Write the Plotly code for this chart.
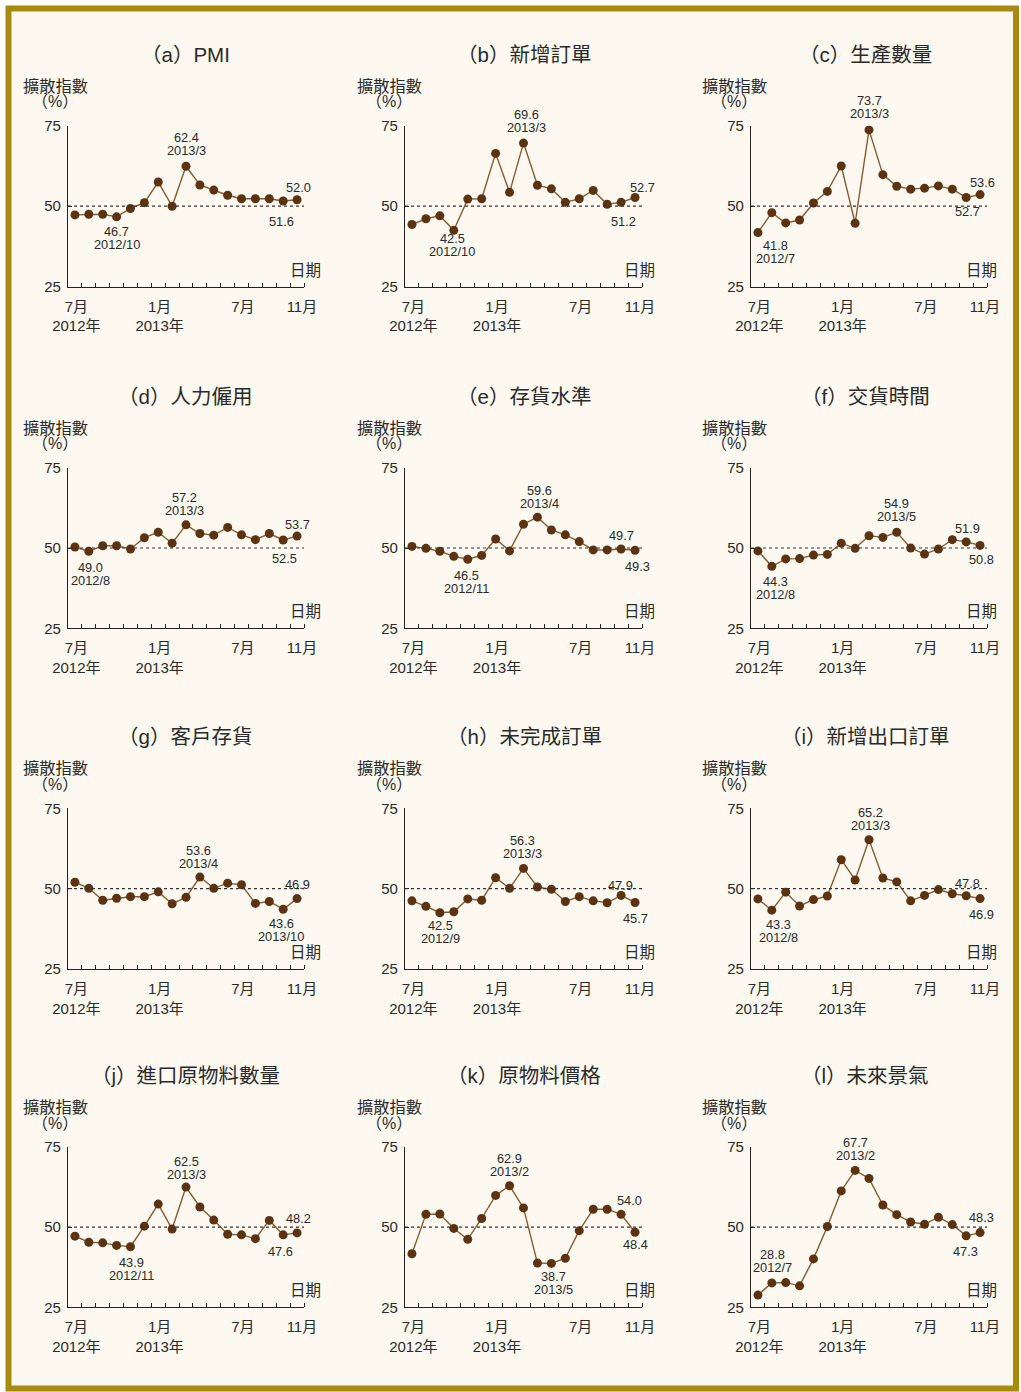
import plotly.graph_objects as go

# ---------------- data ----------------
months = list(range(17))  # 2012/7 .. 2013/11
dates = ["2012/7", "2012/8", "2012/9", "2012/10", "2012/11", "2012/12",
         "2013/1", "2013/2", "2013/3", "2013/4", "2013/5", "2013/6",
         "2013/7", "2013/8", "2013/9", "2013/10", "2013/11"]
tick_pos = [0.1, 6.1, 12.1, 16.35]
tick_text = ["7月<br>2012年", "1月<br>2013年", "7月", "11月"]
y_ticks = [25, 50, 75]

titles = ["（a）PMI", "（b）新增訂單", "（c）生產數量",
          "（d）人力僱用", "（e）存貨水準", "（f）交貨時間",
          "（g）客戶存貨", "（h）未完成訂單", "（i）新增出口訂單",
          "（j）進口原物料數量", "（k）原物料價格", "（l）未來景氣"]

pmi = [47.3, 47.5, 47.5, 46.7, 49.3, 51.1, 57.5, 50.0, 62.4, 56.6, 55.0, 53.4, 52.3, 52.3, 52.3, 51.6, 52.0]
new_orders = [44.3, 46.1, 47.0, 42.5, 52.2, 52.3, 66.4, 54.3, 69.6, 56.5, 55.4, 51.2, 52.3, 54.9, 50.6, 51.2, 52.7]
production = [41.8, 48.0, 44.8, 45.7, 51.0, 54.6, 62.5, 44.7, 73.7, 59.8, 56.2, 55.3, 55.6, 56.3, 55.3, 52.7, 53.6]
employment = [50.3, 49.0, 50.7, 50.7, 49.7, 53.2, 54.9, 51.5, 57.2, 54.5, 54.0, 56.4, 54.1, 52.6, 54.5, 52.5, 53.7]
inventories = [50.5, 49.9, 49.0, 47.4, 46.5, 47.7, 52.8, 49.1, 57.4, 59.6, 55.6, 54.1, 52.0, 49.4, 49.4, 49.7, 49.3]
delivery = [49.1, 44.3, 46.6, 46.7, 47.8, 48.0, 51.5, 49.9, 53.8, 53.3, 54.9, 50.0, 48.1, 49.7, 52.6, 51.9, 50.8]
cust_inventories = [52.0, 50.1, 46.4, 47.0, 47.5, 47.5, 49.0, 45.3, 47.3, 53.6, 50.1, 51.7, 51.2, 45.4, 46.0, 43.6, 46.9]
backlog = [46.2, 44.5, 42.5, 42.8, 46.8, 46.4, 53.4, 50.1, 56.3, 50.5, 49.8, 46.0, 47.5, 46.2, 45.6, 47.9, 45.7]
export_orders = [46.8, 43.3, 48.9, 44.6, 46.6, 47.7, 59.0, 52.7, 65.2, 53.3, 52.1, 46.2, 47.9, 49.7, 48.4, 47.8, 46.9]
imports = [47.2, 45.3, 45.1, 44.3, 43.9, 50.3, 57.2, 49.4, 62.5, 56.3, 52.2, 47.8, 47.6, 46.4, 52.1, 47.6, 48.2]
prices = [41.7, 54.0, 54.1, 49.6, 46.2, 52.7, 59.9, 62.9, 56.0, 38.8, 38.7, 40.3, 48.9, 55.6, 55.6, 54.0, 48.4]
future = [28.8, 32.6, 32.7, 31.7, 40.1, 50.2, 61.3, 67.7, 65.2, 56.9, 53.9, 51.6, 50.9, 53.1, 50.8, 47.3, 48.3]

series = [pmi, new_orders, production, employment, inventories, delivery,
          cust_inventories, backlog, export_orders, imports, prices, future]

# labelled points: (index, show date, x shift px, y offset px of value line; + = down)
label_specs = [
    [(8, True, 0, -28.5), (3, True, 0, 14.7), (16, False, 1, -12.3), (15, False, -2, 20)],
    [(8, True, 2.5, -29), (3, True, -1.3, 8.5), (16, False, 7, -10), (15, False, 2, 18.7)],
    [(8, True, 0, -29.7), (0, True, 18, 13.3), (16, False, 2, -12), (15, False, 1.3, 14)],
    [(8, True, -2, -27.7), (1, True, 1.3, 16), (16, False, 0, -11.3), (15, False, 1.7, 18.3)],
    [(9, True, 1.7, -26.3), (4, True, -1.7, 16.7), (15, False, 0, -13), (16, False, 2, 16.7)],
    [(10, True, 0, -29), (1, True, 4, 15.3), (15, False, 1.3, -13.3), (16, False, 1.3, 14.3)],
    [(9, True, -1.7, -27), (15, True, -1.7, 14.7), (16, False, 0.7, -13.7)],
    [(8, True, -0.7, -28.3), (2, True, 1, 13), (15, False, -0.7, -10.3), (16, False, 0, 16)],
    [(8, True, 1.3, -27.3), (1, True, 6.7, 14.3), (15, False, 1.3, -12.7), (16, False, 1.3, 16)],
    [(8, True, 0, -25.7), (4, True, 0.7, 15.7), (16, False, 1.3, -14.7), (15, False, -2.7, 16.3)],
    [(7, True, 0, -27), (10, True, 1.7, 12.7), (15, False, 8.3, -14), (16, False, 0, 12.7)],
    [(7, True, 0, -28.3), (0, True, 15, -40.7), (16, False, 1.3, -15.3), (15, False, -1, 15.3)],
]

# ---------------- layout geometry (pixels) ----------------
W, H = 1021, 1392
col_left = [68, 405, 751]
col_right = [304, 642, 987]
row_top = [125.7, 467.7, 808.3, 1147]
row_bot = [286.7, 628.3, 969, 1307.3]
ytitle_x = [55, 389, 734]
date_x = [305, 639, 981]
title_x = [185, 524, 865]

FONT = "Liberation Sans, Noto Sans CJK TC, sans-serif"
TXT = "#2a2a2a"
AX = "#222222"
LINE_C = "#8a5a2e"
MARK_C = "#5c3312"


def px(x):
    return x / W


def py(y):
    return 1 - y / H


fig = go.Figure()
annotations = []
shapes = []
layout = {}

shapes.append(dict(type="rect", xref="paper", yref="paper", layer="below",
                   x0=px(8.5), x1=px(1016), y0=py(1388.5), y1=py(8.5),
                   fillcolor="#fdf9f0", line=dict(color="#a88a0f", width=6)))

for i, vals in enumerate(series):
    r, c = divmod(i, 3)
    n = i + 1
    xa = "x" if n == 1 else f"x{n}"
    ya = "y" if n == 1 else f"y{n}"
    xkey = "xaxis" if n == 1 else f"xaxis{n}"
    ykey = "yaxis" if n == 1 else f"yaxis{n}"

    fig.add_trace(go.Scatter(
        x=months, y=vals, xaxis=xa, yaxis=ya, mode="lines+markers",
        line=dict(color=LINE_C, width=1.4),
        marker=dict(color=MARK_C, size=9),
        showlegend=False, hoverinfo="skip"))

    layout[xkey] = dict(
        domain=[px(col_left[c]), px(col_right[c])], anchor=ya,
        range=[-0.5, 16.5], showgrid=False, zeroline=False, automargin=False,
        showline=True, linecolor=AX, linewidth=1.3,
        tickmode="array", tickvals=tick_pos, ticktext=tick_text, ticks="",
        ticklabelstandoff=6,
        tickfont=dict(family=FONT, size=15, color=TXT),
        minor=dict(tickmode="array", tickvals=[k + 0.5 for k in months],
                   ticks="inside", ticklen=4, tickwidth=1.2, tickcolor=AX,
                   showgrid=False),
        fixedrange=True)
    layout[ykey] = dict(
        domain=[py(row_bot[r]), py(row_top[r])], anchor=xa,
        range=[25, 75], showgrid=False, zeroline=False, automargin=False,
        showline=True, linecolor=AX, linewidth=1.3,
        tickmode="array", tickvals=y_ticks, ticks="inside", ticklen=4,
        tickwidth=1.2, tickcolor=AX, ticklabelstandoff=3,
        tickfont=dict(family=FONT, size=15, color=TXT),
        fixedrange=True)

    # 50 reference line
    shapes.append(dict(type="line", xref=xa, yref=ya, x0=-0.5, x1=16.5, y0=50, y1=50,
                       line=dict(color="#333333", width=1.2, dash="dot")))

    # panel title
    annotations.append(dict(text=titles[i], xref="paper", yref="paper",
                            x=px(title_x[c]), y=py(row_top[r] - 71.5),
                            xanchor="center", yanchor="middle", showarrow=False,
                            font=dict(family=FONT, size=20.5, color=TXT)))
    # y-axis title
    annotations.append(dict(text="擴散指數", xref="paper", yref="paper",
                            x=px(ytitle_x[c]), y=py(row_top[r] - 40),
                            xanchor="center", yanchor="middle", showarrow=False,
                            font=dict(family=FONT, size=16.3, color=TXT)))
    annotations.append(dict(text="（%）", xref="paper", yref="paper",
                            x=px(ytitle_x[c]), y=py(row_top[r] - 24),
                            xanchor="center", yanchor="middle", showarrow=False,
                            font=dict(family=FONT, size=16, color=TXT)))
    # x-axis title
    annotations.append(dict(text="日期", xref="paper", yref="paper",
                            x=px(date_x[c]), y=py(row_bot[r] - 16.5),
                            xanchor="center", yanchor="middle", showarrow=False,
                            font=dict(family=FONT, size=15.5, color=TXT)))

    # value labels
    for idx, with_date, dx, dy in label_specs[i]:
        annotations.append(dict(text=f"{vals[idx]:.1f}", xref=xa, yref=ya,
                                x=months[idx], y=vals[idx], xshift=dx, yshift=-dy,
                                xanchor="center", yanchor="middle", showarrow=False,
                                font=dict(family=FONT, size=12.8, color=TXT)))
        if with_date:
            annotations.append(dict(text=dates[idx], xref=xa, yref=ya,
                                    x=months[idx], y=vals[idx], xshift=dx, yshift=-(dy + 13),
                                    xanchor="center", yanchor="middle", showarrow=False,
                                    font=dict(family=FONT, size=12.8, color=TXT)))

fig.update_layout(
    width=W, height=H, margin=dict(l=0, r=0, t=0, b=0, pad=0, autoexpand=False),
    paper_bgcolor="#ffffff", plot_bgcolor="rgba(0,0,0,0)",
    annotations=annotations, shapes=shapes, **layout)

post = (
    "document.documentElement.style.margin='0';"
    "document.documentElement.style.padding='0';"
    "document.documentElement.style.overflow='hidden';"
    "document.body.style.margin='0';"
    "document.body.style.padding='0';"
    "document.body.style.overflow='hidden';"
)
fig.write_html("out.html", config={"displayModeBar": False}, post_script=post)
